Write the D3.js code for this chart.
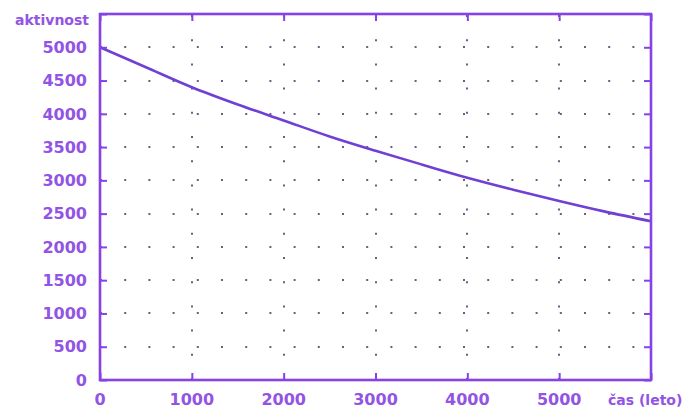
<!DOCTYPE html>
<html>
<head>
<meta charset="utf-8">
<script src="https://cdn.jsdelivr.net/npm/d3@7"></script>
<style>
  html, body { margin: 0; padding: 0; background: #ffffff; }
  svg { display: block; }
</style>
</head>
<body>
<svg id="chart" width="698" height="408"></svg>
<script>
// ---- data ----
const years = [0, 500, 1000, 1500, 2000, 2500, 3000, 3500, 4000, 4500, 5000, 5500, 6000];
const activity = [5000, 4700, 4400, 4140, 3900, 3660, 3445, 3240, 3040, 2860, 2690, 2530, 2385];
const xTicks = [0, 1000, 2000, 3000, 4000, 5000, 6000];
const xTickLabels = ["0", "1000", "2000", "3000", "4000", "5000", ""];
const yTicks = [0, 500, 1000, 1500, 2000, 2500, 3000, 3500, 4000, 4500, 5000, 5500];
const yTickLabels = ["0", "500", "1000", "1500", "2000", "2500", "3000", "3500", "4000", "4500", "5000", ""];
const xGrid = [1000, 2000, 3000, 4000, 5000];
const yGrid = [500, 1000, 1500, 2000, 2500, 3000, 3500, 4000, 4500, 5000];
const yTitle = "aktivnost";
const xTitle = "čas (leto)";

// ---- layout ----
const W = 698, H = 408;
const margin = { left: 100, top: 14, right: 47, bottom: 28 };
const w = W - margin.left - margin.right;
const h = H - margin.top - margin.bottom;

const axisColor = "#8542e6";
const textColor = "#9254e4";
const dotColor = "#6c5c86";
const lineColor = "#7040d4";
const font = "'DejaVu Sans', sans-serif";

const svg = d3.select("#chart");
const g = svg.append("g").attr("transform", `translate(${margin.left},${margin.top})`);

const x = d3.scaleLinear().domain([0, 6000]).range([0, w]);
const y = d3.scaleLinear().domain([0, 5500]).range([h, 0]);

// dotted grid
const period = 24.2;
g.append("g").selectAll("line").data(yGrid).join("line")
  .attr("x1", 0).attr("x2", w)
  .attr("y1", d => Math.round(y(d))).attr("y2", d => Math.round(y(d)))
  .attr("stroke", dotColor).attr("stroke-width", 2)
  .attr("stroke-dasharray", `2 ${period - 2}`);
g.append("g").selectAll("line").data(xGrid).join("line")
  .attr("x1", d => Math.round(x(d))).attr("x2", d => Math.round(x(d)))
  .attr("y1", h).attr("y2", 0)
  .attr("stroke", dotColor).attr("stroke-width", 2)
  .attr("stroke-dasharray", `2 ${period - 2}`);

// curve
const line = d3.line()
  .x((d, i) => x(years[i]))
  .y(d => y(d))
  .curve(d3.curveMonotoneX);
g.append("path").datum(activity)
  .attr("d", line)
  .attr("fill", "none")
  .attr("stroke", lineColor)
  .attr("stroke-width", 2.6);

// axes (ticks inward, no labels here)
function styleAxis(sel) {
  sel.select(".domain").remove();
  sel.selectAll(".tick line").attr("stroke", axisColor).attr("stroke-width", 2);
  sel.selectAll(".tick text").remove();
}
g.append("g").attr("transform", `translate(0,${h})`)
  .call(d3.axisBottom(x).tickValues(xTicks).tickSizeInner(-7).tickSizeOuter(0)).call(styleAxis);
g.append("g")
  .call(d3.axisTop(x).tickValues(xTicks).tickSizeInner(-7).tickSizeOuter(0)).call(styleAxis);
g.append("g")
  .call(d3.axisLeft(y).tickValues(yTicks).tickSizeInner(-7).tickSizeOuter(0)).call(styleAxis);
g.append("g").attr("transform", `translate(${w},0)`)
  .call(d3.axisRight(y).tickValues(yTicks).tickSizeInner(-7).tickSizeOuter(0)).call(styleAxis);

// frame
g.append("rect").attr("x", 0).attr("y", 0).attr("width", w).attr("height", h)
  .attr("fill", "none").attr("stroke", axisColor).attr("stroke-width", 2.6);

// tick labels
g.append("g").selectAll("text").data(xTicks).join("text")
  .attr("x", d => x(d)).attr("y", h + 25)
  .attr("text-anchor", "middle")
  .attr("font-family", font).attr("font-size", 16).attr("font-weight", "bold")
  .attr("fill", textColor)
  .text((d, i) => xTickLabels[i]);
g.append("g").selectAll("text").data(yTicks).join("text")
  .attr("x", -13).attr("y", d => y(d))
  .attr("dy", "0.36em")
  .attr("text-anchor", "end")
  .attr("font-family", font).attr("font-size", 16).attr("font-weight", "bold")
  .attr("fill", textColor)
  .text((d, i) => yTickLabels[i]);

// titles
svg.append("text")
  .attr("x", 89).attr("y", 25)
  .attr("text-anchor", "end")
  .attr("font-family", font).attr("font-size", 14).attr("font-weight", "bold")
  .attr("fill", textColor)
  .text(yTitle);
svg.append("text")
  .attr("x", 608).attr("y", 405)
  .attr("text-anchor", "start")
  .attr("font-family", font).attr("font-size", 14).attr("font-weight", "bold")
  .attr("fill", textColor)
  .text(xTitle);
</script>
</body>
</html>
